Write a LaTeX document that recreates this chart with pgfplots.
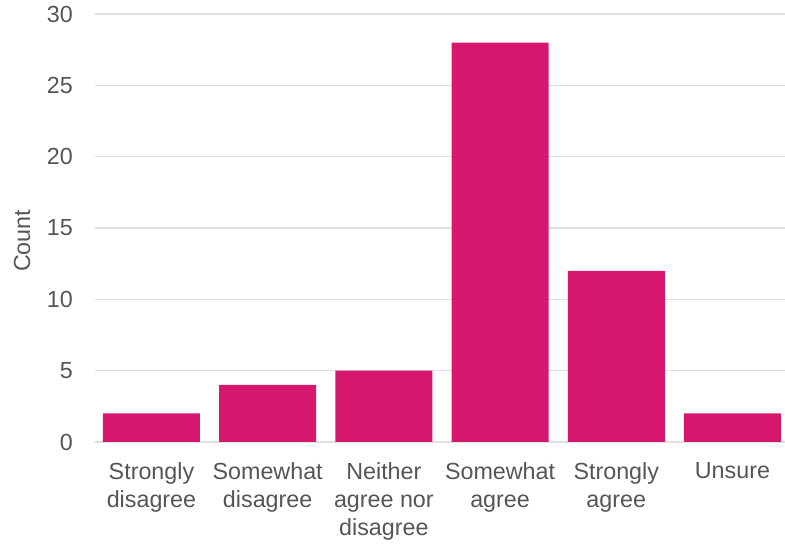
\documentclass[border=0pt]{standalone}
\usepackage{pgfplots}
\pgfplotsset{compat=1.18}
\usepackage{fontspec}
\setmainfont{Liberation Sans}
\definecolor{barc}{HTML}{D5186E}
\definecolor{txt}{HTML}{555555}
\definecolor{gridc}{HTML}{E0E0E0}
\begin{document}
\begin{tikzpicture}
\useasboundingbox (0,0) rectangle (785pt,545pt);
\begin{axis}[
  at={(95pt,103pt)}, anchor=south west,
  scale only axis, width=690pt, height=428pt,
  xmin=-0.486, xmax=5.452, ymin=0, ymax=30,
  ytick={0,5,10,15,20,25,30},
  xtick={0,1,2,3,4,5},
  xticklabels={Strongly\\disagree, Somewhat\\disagree, Neither\\agree nor\\disagree, Somewhat\\agree, Strongly\\agree, Unsure},
  axis line style={draw=none},
  major tick length=0pt,
  xmajorgrids=false,
  ymajorgrids=true,
  major grid style={draw=gridc, line width=1.5pt},
  /pgf/number format/assume math mode=true,
  tick label style={font=\fontsize{23.3}{28}\selectfont, text=txt},
  yticklabel style={anchor=east, inner sep=0pt, xshift=-22pt},
  xticklabel style={anchor=north, inner sep=0pt, yshift=-20pt, align=center},
  ylabel={Count},
  ylabel style={at={(axis description cs:-0.1058,0.47)}, anchor=center, font=\fontsize{23.3}{28}\selectfont, text=txt},
]
\addplot[ybar, bar width=97pt, fill=barc, draw=none] coordinates {
  (0,2) (1,4) (2,5) (3,28) (4,12) (5,2)
};
\end{axis}
\end{tikzpicture}
\end{document}
